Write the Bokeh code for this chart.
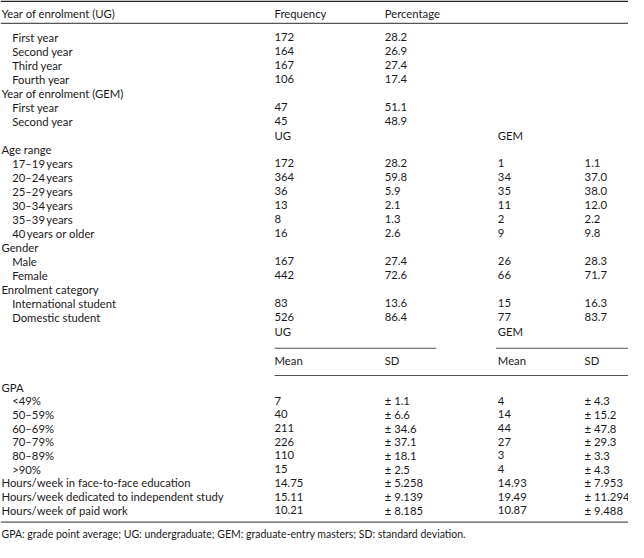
from bokeh.plotting import figure
from bokeh.models import ColumnDataSource
from bokeh.core.properties import value
from bokeh.embed import file_html
from bokeh.resources import INLINE

# ---------------- data ----------------
col_headers_top = ["Frequency", "Percentage"]
ug_year_labels = ["First year", "Second year", "Third year", "Fourth year"]
ug_year_freq = [172, 164, 167, 106]
ug_year_pct = [28.2, 26.9, 27.4, 17.4]

gem_year_labels = ["First year", "Second year"]
gem_year_freq = [47, 45]
gem_year_pct = [51.1, 48.9]

age_labels = ["17\u201319\u2009years", "20\u201324\u2009years", "25\u201329\u2009years",
              "30\u201334\u2009years", "35\u201339\u2009years", "40\u2009years or older"]
age_ug_n = [172, 364, 36, 13, 8, 16]
age_ug_pct = [28.2, 59.8, 5.9, 2.1, 1.3, 2.6]
age_gem_n = [1, 34, 35, 11, 2, 9]
age_gem_pct = [1.1, 37.0, 38.0, 12.0, 2.2, 9.8]

gender_labels = ["Male", "Female"]
gender_ug_n = [167, 442]
gender_ug_pct = [27.4, 72.6]
gender_gem_n = [26, 66]
gender_gem_pct = [28.3, 71.7]

enrol_labels = ["International student", "Domestic student"]
enrol_ug_n = [83, 526]
enrol_ug_pct = [13.6, 86.4]
enrol_gem_n = [15, 77]
enrol_gem_pct = [16.3, 83.7]

gpa_labels = ["<49%", "50\u201359%", "60\u201369%", "70\u201379%", "80\u201389%", ">90%"]
gpa_ug_mean = [7, 40, 211, 226, 110, 15]
gpa_ug_sd = [1.1, 6.6, 34.6, 37.1, 18.1, 2.5]
gpa_gem_mean = [4, 14, 44, 27, 3, 4]
gpa_gem_sd = [4.3, 15.2, 47.8, 29.3, 3.3, 4.3]

hours_labels = ["Hours/week in face-to-face education",
                "Hours/week dedicated to independent study",
                "Hours/week of paid work"]
hours_ug_mean = [14.75, 15.11, 10.21]
hours_ug_sd = [5.258, 9.139, 8.185]
hours_gem_mean = [14.93, 19.49, 10.87]
hours_gem_sd = [7.953, 11.294, 9.488]

footnote = ("GPA: grade point average; UG: undergraduate; GEM: graduate-entry masters; "
            "SD: standard deviation.")

# ---------------- layout ----------------
W, H = 628, 542
p = figure(width=W, height=H, x_range=(0, 644), y_range=(558, 0),
           output_backend="svg", toolbar_location=None, min_border=0)
p.axis.visible = False
p.grid.visible = False
p.outline_line_color = None
p.background_fill_color = "white"

FONT = value("Lato")
FS = "11.3px"
TXT = "#1a1a1a"

X0, XI = 1, 12           # heading / indented label
C1, C2, C3, C4 = 281, 394, 510, 599

texts = {"x": [], "y": [], "t": []}

def put(x, y, t):
    texts["x"].append(x)
    texts["y"].append(y)
    texts["t"].append(t)

HEAD_Y = 13
put(X0, HEAD_Y, "Year of enrolment (UG)")
put(C1, HEAD_Y, col_headers_top[0])
put(C2, HEAD_Y, col_headers_top[1])

Y0, PITCH = 38.0, 14.4
row = [0]

def ny():
    y = Y0 + row[0] * PITCH
    row[0] += 1
    return y

for lab, n, pc in zip(ug_year_labels, ug_year_freq, ug_year_pct):
    y = ny(); put(XI, y, lab); put(C1, y, str(n)); put(C2, y, f"{pc:.1f}")
y = ny(); put(X0, y, "Year of enrolment (GEM)")
for lab, n, pc in zip(gem_year_labels, gem_year_freq, gem_year_pct):
    y = ny(); put(XI, y, lab); put(C1, y, str(n)); put(C2, y, f"{pc:.1f}")
y = ny(); put(C1, y, "UG"); put(C3, y, "GEM")
y = ny(); put(X0, y, "Age range")
for lab, a, b, c, d in zip(age_labels, age_ug_n, age_ug_pct, age_gem_n, age_gem_pct):
    y = ny(); put(XI, y, lab); put(C1, y, str(a)); put(C2, y, f"{b:.1f}")
    put(C3, y, str(c)); put(C4, y, f"{d:.1f}")
y = ny(); put(X0, y, "Gender")
for lab, a, b, c, d in zip(gender_labels, gender_ug_n, gender_ug_pct, gender_gem_n, gender_gem_pct):
    y = ny(); put(XI, y, lab); put(C1, y, str(a)); put(C2, y, f"{b:.1f}")
    put(C3, y, str(c)); put(C4, y, f"{d:.1f}")
y = ny(); put(X0, y, "Enrolment category")
for lab, a, b, c, d in zip(enrol_labels, enrol_ug_n, enrol_ug_pct, enrol_gem_n, enrol_gem_pct):
    y = ny(); put(XI, y, lab); put(C1, y, str(a)); put(C2, y, f"{b:.1f}")
    put(C3, y, str(c)); put(C4, y, f"{d:.1f}")
y = ny(); put(C1, y, "UG"); put(C3, y, "GEM")

LINE1_Y = 358
MEAN_Y = 371
LINE2_Y = 386
put(C1, MEAN_Y, "Mean"); put(C2, MEAN_Y, "SD"); put(C3, MEAN_Y, "Mean"); put(C4, MEAN_Y, "SD")

GPA_Y = 398
put(X0, GPA_Y, "GPA")
G0, GP = 412.0, 14.1
for i, (lab, a, b, c, d) in enumerate(zip(gpa_labels, gpa_ug_mean, gpa_ug_sd, gpa_gem_mean, gpa_gem_sd)):
    y = G0 + i * GP
    put(XI, y, lab); put(C1, y, str(a)); put(C2, y, f"\u00b1 {b:.1f}")
    put(C3, y, str(c)); put(C4, y, f"\u00b1 {d:.1f}")
for j, (lab, a, b, c, d) in enumerate(zip(hours_labels, hours_ug_mean, hours_ug_sd, hours_gem_mean, hours_gem_sd)):
    y = G0 + (len(gpa_labels) + j) * GP
    put(X0, y, lab); put(C1, y, f"{a:.2f}"); put(C2, y, f"\u00b1 {b:.3f}")
    put(C3, y, f"{c:.2f}"); put(C4, y, f"\u00b1 {d:.3f}")

src = ColumnDataSource(texts)
p.text(x="x", y="y", text="t", source=src, text_font=FONT, text_font_size=FS,
       text_color=TXT, text_align="left", text_baseline="middle")

p.text(x=[X0], y=[549], text=[footnote], text_font=FONT, text_font_size="10.5px",
       text_color=TXT, text_align="left", text_baseline="middle")

# rules
p.segment(x0=[0], y0=[0.8], x1=[644], y1=[0.8], line_color="#231f20", line_width=1.6)
p.segment(x0=[0], y0=[23.5], x1=[644], y1=[23.5], line_color="#555555", line_width=1.1)
p.segment(x0=[C1, C3 - 2], y0=[LINE1_Y, LINE1_Y], x1=[447, 644], y1=[LINE1_Y, LINE1_Y],
          line_color="#555555", line_width=1.1)
p.segment(x0=[C1], y0=[LINE2_Y], x1=[644], y1=[LINE2_Y], line_color="#555555", line_width=1.1)
p.segment(x0=[0], y0=[537], x1=[644], y1=[537], line_color="#555555", line_width=1.3)

open("out.html", "w").write(file_html(p, INLINE))
